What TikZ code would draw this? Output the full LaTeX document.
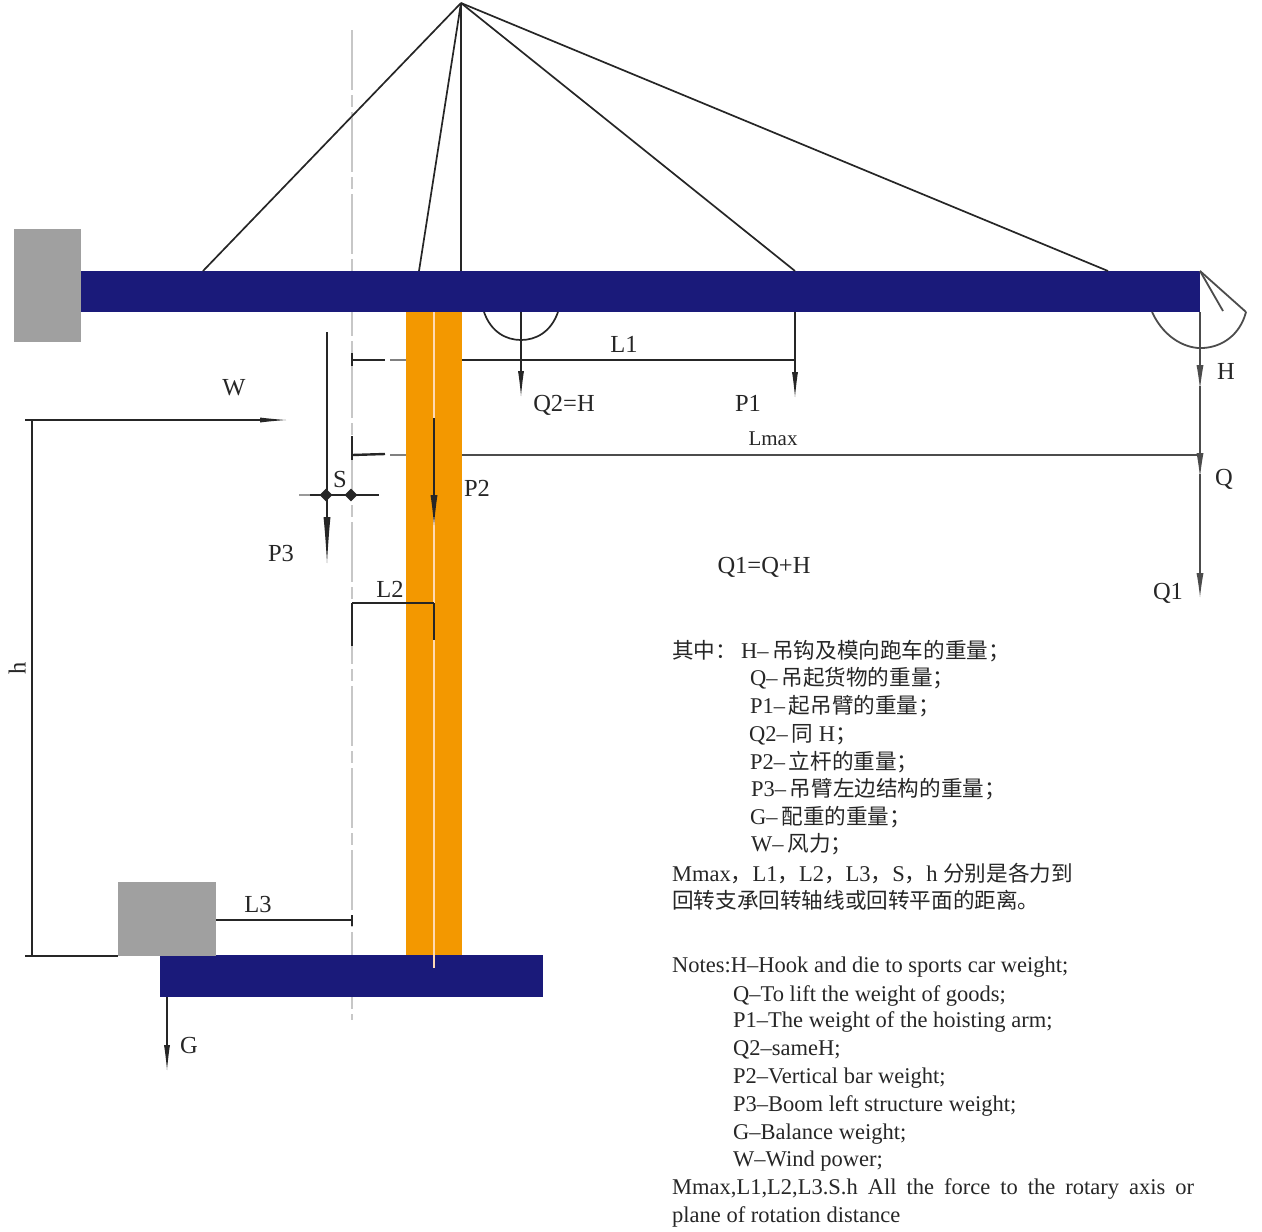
\documentclass[tikz,border=0pt]{standalone}
\usepackage{fontspec}
\setmainfont{Liberation Serif}
\newfontfamily\cjk{Noto Sans CJK SC}[Scale=0.96]
\usetikzlibrary{arrows.meta,shapes.geometric}
\newcommand{\zh}[1]{{\cjk #1}}
\tikzset{
  x=1pt,y=-1pt,
  ln/.style={draw=black!85,line width=1.7pt},
  thinln/.style={draw=black!70,line width=1.8pt},
  tk/.style={draw=black!85,line width=2.4pt},
  sarr/.style={ln,-{Latex[length=25pt,width=6pt,line width=0pt]}},
  bigarr/.style={draw=black!85,line width=1.7pt,-{Latex[length=46pt,width=7pt,line width=0pt]}},
  hookarr/.style={draw=black!70,line width=2pt,-{Latex[length=24pt,width=7pt,line width=0pt]}},
  ctr/.style={draw=black!22,line width=1.6pt,dash pattern=on 60pt off 5pt on 12pt off 5pt},
  lab/.style={font=\fontsize{24.5}{24.5}\selectfont,text=black!85,inner sep=0pt,anchor=center},
  txt/.style={font=\fontsize{22.5}{22.5}\selectfont,text=black!85,inner sep=0pt,anchor=base west},
  navyb/.style={fill={rgb,255:red,26;green,26;blue,122},draw=none},
  orng/.style={fill={rgb,255:red,243;green,152;blue,0},draw=none},
  grayb/.style={fill={rgb,255:red,160;green,160;blue,160},draw=none},
  dimdot/.style={diamond,fill=black!85,inner sep=0pt,minimum size=13pt}
}
\begin{document}
\begin{tikzpicture}
\useasboundingbox (0,0) rectangle (1262,1232);
\coordinate (cT) at (352,30); \coordinate (cB) at (352,1020);
\draw[ctr] (cT) -- (cB);
\node[grayb,minimum width=67pt,minimum height=113pt,inner sep=0pt,anchor=north west] (cw1) at (14,229) {};
\node[navyb,minimum width=1119pt,minimum height=41pt,inner sep=0pt,anchor=north west] (jib) at (81,271) {};
\node[orng,minimum width=56pt,minimum height=644pt,inner sep=0pt,anchor=north west] (mast) at (406,312) {};
\node[navyb,minimum width=383pt,minimum height=42pt,inner sep=0pt,anchor=north west] (base) at (160,955) {};
\node[grayb,minimum width=98pt,minimum height=74pt,inner sep=0pt,anchor=north west] (cw2) at (118,882) {};
\coordinate (mT) at (434,312); \coordinate (mB) at (434,968);
\draw[draw=white!70!orange,line width=1.2pt] (mT) -- (mB);
\coordinate (apex) at (461,3);
\coordinate (c1) at (203,271); \coordinate (c2) at (419,271); \coordinate (c3) at (461,271);
\coordinate (c4) at (795,271); \coordinate (c5) at (1108,271);
\foreach \c in {c1,c2,c3,c4,c5} \draw[ln] (apex) -- (\c);
\coordinate (tip) at (1200,271); \coordinate (h1) at (1246,312); \coordinate (h2) at (1223,311);
\coordinate (h3) at (1152,312);
\draw[thinln] (tip) -- (h1); \draw[thinln] (tip) -- (h2);
\draw[thinln] (h3) .. controls (1165,340) and (1188,349) .. (1203,348) .. controls (1222,347) and (1240,335) .. (h1);
\coordinate (s1) at (484,312); \coordinate (s2) at (558,312);
\draw[ln] (s1) .. controls (491,332) and (506,340) .. (521,340) .. controls (536,340) and (551,332) .. (s2);
\coordinate (q2t) at (521,312); \coordinate (q2b) at (521,396);
\draw[sarr] (q2t) -- (q2b);
\coordinate (p1t) at (795,312); \coordinate (p1b) at (795,397);
\draw[sarr] (p1t) -- (p1b);
\coordinate (p2t) at (434,418); \coordinate (p2b) at (434,525);
\draw[bigarr,line width=2pt,-{Latex[length=30pt,width=7pt,line width=0pt]}] (p2t) -- (p2b);
\coordinate (p3t) at (327,332); \coordinate (p3b) at (327,563);
\draw[bigarr] (p3t) -- (p3b);
\coordinate (gt) at (167,997); \coordinate (gb) at (167,1070);
\draw[sarr,line width=1.8pt] (gt) -- (gb);
\coordinate (ht) at (1200,312); \coordinate (hb) at (1200,389);
\coordinate (hc) at (1200,386); \coordinate (qb) at (1200,477);
\coordinate (qc) at (1200,474); \coordinate (q1b) at (1200,597);
\draw[hookarr] (ht) -- (hb);
\draw[hookarr] (hc) -- (qb);
\draw[hookarr] (qc) -- (q1b);
% L1
\coordinate (l1a) at (352,360); \coordinate (l1b) at (385,360); \coordinate (l1g) at (390,360); \coordinate (l1c) at (406,360);
\coordinate (l1d) at (462,360); \coordinate (l1e) at (795,360);
\draw[tk] (l1a) -- (l1b); \draw[draw=black!50,line width=1.7pt] (l1g) -- (l1c);
\draw[ln] (l1d) -- (l1e);
\coordinate (l1t) at (352,353); \coordinate (l1u) at (352,366);
\draw[tk,line width=2.8pt] (l1t) -- (l1u);
% Lmax
\coordinate (lma) at (352,455); \coordinate (lmb) at (385,454); \coordinate (lmg) at (390,455); \coordinate (lmc) at (406,455);
\coordinate (lmd) at (462,455); \coordinate (lme) at (1200,455);
\draw[tk] (lma) -- (lmb); \draw[draw=black!50,line width=1.7pt] (lmg) -- (lmc);
\draw[draw=black!70,line width=2pt] (lmd) -- (lme);
\coordinate (lmt) at (352,436); \coordinate (lmu) at (352,460);
\draw[tk,line width=2.8pt] (lmt) -- (lmu);
% S
\coordinate (sa) at (299,495); \coordinate (sm) at (310,495); \coordinate (sb) at (379,495);
\draw[draw=black!40,line width=2pt] (sa) -- (sm);
\draw[tk] (sm) -- (sb);
\node[dimdot] (d1) at (326,495) {}; \node[dimdot] (d2) at (351,495) {};
% L2
\coordinate (l2a) at (352,603); \coordinate (l2b) at (434,603);
\coordinate (l2c) at (352,646); \coordinate (l2d) at (434,640);
\draw[ln] (l2a) -- (l2b); \draw[ln] (l2a) -- (l2c); \draw[ln] (l2b) -- (l2d);
% L3
\coordinate (l3a) at (216,920); \coordinate (l3b) at (352,920);
\coordinate (l3c) at (352,915); \coordinate (l3d) at (352,926);
\draw[ln,line width=2pt] (l3a) -- (l3b); \draw[ln,line width=2pt] (l3c) -- (l3d);
% h and W
\coordinate (wa) at (25,420); \coordinate (wb) at (286,420);
\coordinate (ha) at (32,420); \coordinate (hz) at (32,956); \coordinate (hl) at (25,956); \coordinate (hr) at (118,956);
\draw[ln,-{Latex[length=26pt,width=5pt,line width=0pt]}] (wa) -- (wb);
\draw[ln] (ha) -- (hz); \draw[ln] (hl) -- (hr);
% labels
\node[lab] (tL1) at (624,344) {L1};
\node[lab] (tQ2) at (564,405) {Q2=H};
\node[lab] (tP1) at (748,403) {P1};
\node[lab,font=\fontsize{21}{21}\selectfont] (tLm) at (773,439) {Lmax};
\node[lab] (tH) at (1226,371) {H};
\node[lab] (tQ) at (1224,479) {Q};
\node[lab] (tQ1) at (1168,593) {Q1};
\node[lab] (tW) at (234,388) {W};
\node[lab] (tP2) at (477,488) {P2};
\node[lab] (tS) at (340,480) {S};
\node[lab] (tP3) at (281,554) {P3};
\node[lab] (tL2) at (390,589) {L2};
\node[lab] (tL3) at (258,904) {L3};
\node[lab] (tG) at (189,1045) {G};
\node[lab,rotate=90] (th) at (17,668) {h};
\node[lab] (tF) at (764,567) {Q1=Q+H};
% Chinese notes
\node[txt] (n1) at (672,658) {\zh{其中：}\hspace{4pt}H--\,\zh{吊钩及模向跑车的重量；}};
\node[txt] (n2) at (750,685) {Q--\,\zh{吊起货物的重量；}};
\node[txt] (n3) at (750,713) {P1--\,\zh{起吊臂的重量；}};
\node[txt] (n4) at (749,741) {Q2--\,\zh{同} H\zh{；}};
\node[txt] (n5) at (750,769) {P2--\,\zh{立杆的重量；}};
\node[txt] (n6) at (751,796) {P3--\,\zh{吊臂左边结构的重量；}};
\node[txt] (n7) at (750,824) {G--\,\zh{配重的重量；}};
\node[txt] (n8) at (751,851) {W--\,\zh{风力；}};
\node[txt] (n9) at (672,881) {Mmax\zh{，}L1\zh{，}L2\zh{，}L3\zh{，}S\zh{，}h \zh{分别是各力到}};
\node[txt] (n10) at (672,908) {\zh{回转支承回转轴线或回转平面的距离。}};
% English notes
\node[txt] (e1) at (672,972) {Notes:H--Hook and die to sports car weight;};
\node[txt] (e2) at (733,1001) {Q--To lift the weight of goods;};
\node[txt] (e3) at (733,1027) {P1--The weight of the hoisting arm;};
\node[txt] (e4) at (733,1055) {Q2--sameH;};
\node[txt] (e5) at (733,1083) {P2--Vertical bar weight;};
\node[txt] (e6) at (733,1111) {P3--Boom left structure weight;};
\node[txt] (e7) at (733,1139) {G--Balance weight;};
\node[txt] (e8) at (733,1166) {W--Wind power;};
\node[txt] (e9) at (672,1194) {Mmax,L1,L2,L3.S.h\hspace{10pt}All\hspace{10pt}the\hspace{10pt}force\hspace{10pt}to\hspace{10pt}the\hspace{10pt}rotary\hspace{10pt}axis\hspace{10pt}or};
\node[txt] (e10) at (672,1222) {plane of rotation distance};
\end{tikzpicture}
\end{document}
